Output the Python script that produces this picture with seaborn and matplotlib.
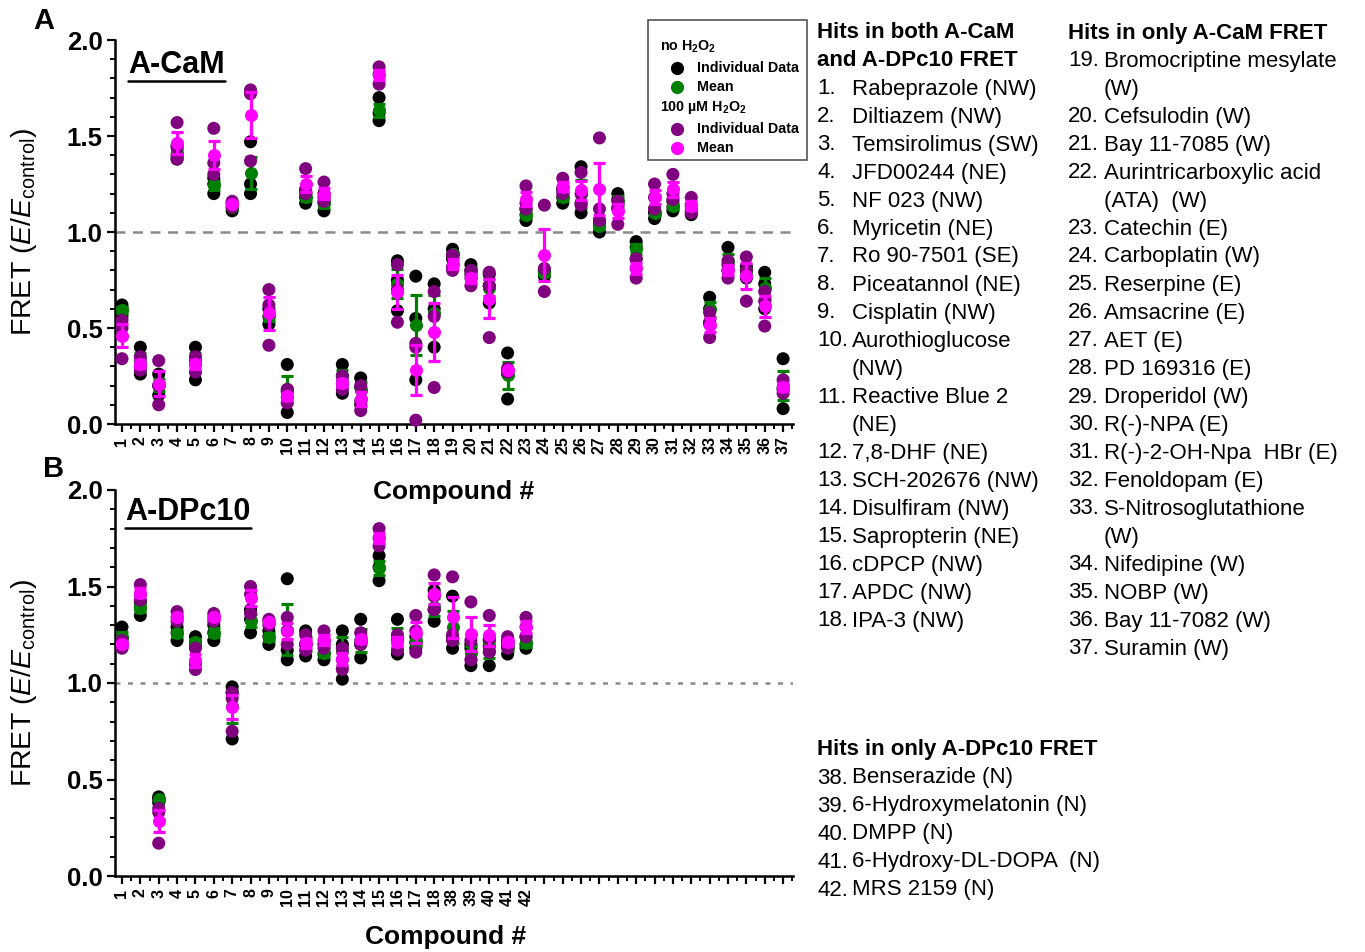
import numpy as np
import pandas as pd
import matplotlib
matplotlib.use('Agg')
import matplotlib.pyplot as plt
import seaborn as sns
from matplotlib.lines import Line2D
from matplotlib.patches import Rectangle
from matplotlib.ticker import MultipleLocator

# ---------------- data ----------------
acam_ids = list(range(1, 38))
acam_ctrl = [
    [0.62, 0.60, 0.56], [0.40, 0.33, 0.26], [0.26, 0.20, 0.15], [1.45, 1.40, 1.38],
    [0.40, 0.33, 0.23], [1.28, 1.25, 1.20], [1.15, 1.13, 1.11], [1.47, 1.25, 1.20],
    [0.60, 0.56, 0.52], [0.31, 0.17, 0.06], [1.22, 1.18, 1.15], [1.20, 1.15, 1.11],
    [0.31, 0.25, 0.16], [0.24, 0.19, 0.10], [1.70, 1.62, 1.58], [0.85, 0.75, 0.59],
    [0.77, 0.55, 0.23], [0.73, 0.60, 0.40], [0.91, 0.88, 0.86], [0.83, 0.80, 0.78],
    [0.78, 0.72, 0.63], [0.37, 0.26, 0.13], [1.12, 1.09, 1.06], [0.80, 0.79, 0.77],
    [1.22, 1.18, 1.15], [1.34, 1.15, 1.10], [1.06, 1.04, 1.00], [1.20, 1.17, 1.12],
    [0.95, 0.92, 0.86], [1.12, 1.10, 1.07], [1.16, 1.13, 1.11], [1.14, 1.11, 1.09],
    [0.66, 0.60, 0.53], [0.92, 0.83, 0.80], [0.82, 0.80, 0.76], [0.79, 0.73, 0.60],
    [0.34, 0.18, 0.08],
]
acam_h2o2 = [
    [0.54, 0.50, 0.34], [0.35, 0.30, 0.28], [0.33, 0.20, 0.10], [1.57, 1.44, 1.38],
    [0.35, 0.31, 0.27], [1.54, 1.36, 1.30], [1.16, 1.15, 1.13], [1.74, 1.72, 1.37],
    [0.70, 0.62, 0.41], [0.18, 0.14, 0.11], [1.33, 1.22, 1.20], [1.26, 1.18, 1.16],
    [0.25, 0.21, 0.18], [0.20, 0.12, 0.07], [1.86, 1.82, 1.77], [0.83, 0.70, 0.53],
    [0.42, 0.40, 0.02], [0.69, 0.56, 0.19], [0.88, 0.82, 0.80], [0.80, 0.76, 0.72],
    [0.79, 0.72, 0.45], [0.29, 0.28, 0.27], [1.24, 1.15, 1.12], [1.14, 0.81, 0.69],
    [1.28, 1.23, 1.20], [1.31, 1.20, 1.14], [1.49, 1.12, 1.06], [1.16, 1.13, 1.04],
    [0.86, 0.81, 0.76], [1.25, 1.18, 1.12], [1.30, 1.20, 1.17], [1.18, 1.13, 1.10],
    [0.58, 0.52, 0.45], [0.85, 0.80, 0.76], [0.87, 0.80, 0.64], [0.69, 0.64, 0.51],
    [0.23, 0.19, 0.16],
]

dpc_ids = list(range(1, 19)) + [38, 39, 40, 41, 42]
dpc_ctrl = [
    [1.29, 1.23, 1.19], [1.42, 1.39, 1.35], [0.41, 0.40, 0.38], [1.29, 1.26, 1.22],
    [1.24, 1.21, 1.19], [1.30, 1.26, 1.22], [0.98, 0.95, 0.71], [1.38, 1.33, 1.26],
    [1.27, 1.24, 1.20], [1.54, 1.17, 1.12], [1.27, 1.20, 1.14], [1.20, 1.15, 1.12],
    [1.27, 1.20, 1.02], [1.33, 1.20, 1.13], [1.66, 1.60, 1.53], [1.33, 1.22, 1.15],
    [1.24, 1.21, 1.18], [1.48, 1.38, 1.32], [1.45, 1.24, 1.18], [1.20, 1.18, 1.09],
    [1.22, 1.19, 1.09], [1.22, 1.19, 1.15], [1.24, 1.20, 1.18],
]
dpc_h2o2 = [
    [1.22, 1.20, 1.18], [1.51, 1.46, 1.43], [0.35, 0.33, 0.17], [1.37, 1.34, 1.32],
    [1.18, 1.10, 1.07], [1.36, 1.34, 1.32], [0.95, 0.92, 0.75], [1.50, 1.46, 1.36],
    [1.33, 1.32, 1.30], [1.34, 1.27, 1.20], [1.25, 1.20, 1.17], [1.27, 1.22, 1.18],
    [1.18, 1.12, 1.07], [1.26, 1.22, 1.20], [1.80, 1.75, 1.71], [1.25, 1.22, 1.17],
    [1.35, 1.27, 1.16], [1.56, 1.45, 1.38], [1.55, 1.25, 1.22], [1.42, 1.22, 1.12],
    [1.35, 1.23, 1.16], [1.24, 1.21, 1.18], [1.34, 1.29, 1.24],
]

both_hits = ['Rabeprazole (NW)', 'Diltiazem (NW)', 'Temsirolimus (SW)', 'JFD00244 (NE)',
             'NF 023 (NW)', 'Myricetin (NE)', 'Ro 90-7501 (SE)', 'Piceatannol (NE)',
             'Cisplatin (NW)', 'Aurothioglucose\n(NW)', 'Reactive Blue 2\n(NE)',
             '7,8-DHF (NE)', 'SCH-202676 (NW)', 'Disulfiram (NW)', 'Sapropterin (NE)',
             'cDPCP (NW)', 'APDC (NW)', 'IPA-3 (NW)']
cam_only = ['Bromocriptine mesylate\n(W)', 'Cefsulodin (W)', 'Bay 11-7085 (W)',
            'Aurintricarboxylic acid\n(ATA)  (W)', 'Catechin (E)', 'Carboplatin (W)',
            'Reserpine (E)', 'Amsacrine (E)', 'AET (E)', 'PD 169316 (E)', 'Droperidol (W)',
            'R(-)-NPA (E)', 'R(-)-2-OH-Npa  HBr (E)', 'Fenoldopam (E)',
            'S-Nitrosoglutathione\n(W)', 'Nifedipine (W)', 'NOBP (W)', 'Bay 11-7082 (W)',
            'Suramin (W)']
dpc_only = ['Benserazide (N)', '6-Hydroxymelatonin (N)', 'DMPP (N)',
            '6-Hydroxy-DL-DOPA  (N)', 'MRS 2159 (N)']

# ---------------- style ----------------
sns.set_theme(style='ticks')
plt.rcParams['font.family'] = ['Liberation Sans', 'DejaVu Sans']
plt.rcParams['mathtext.fontset'] = 'custom'
plt.rcParams['mathtext.rm'] = 'Liberation Sans'
plt.rcParams['mathtext.it'] = 'Liberation Sans:italic'
plt.rcParams['mathtext.bf'] = 'Liberation Sans:bold'
for k in ['text.color', 'axes.labelcolor', 'xtick.color', 'ytick.color', 'axes.edgecolor']:
    plt.rcParams[k] = 'black'

C_IND0, C_MEAN0 = '#000000', '#008000'
C_IND1, C_MEAN1 = '#800080', '#ff00ff'

W, H = 1365, 952
fig = plt.figure(figsize=(W / 100, H / 100), dpi=100)


def fx(px):
    return px / W


def fy(py):
    return 1 - py / H


axA = fig.add_axes([fx(115), fy(424), fx(793) - fx(115), fy(40) - fy(424)])
axB = fig.add_axes([fx(115), fy(876), fx(793) - fx(115), fy(490) - fy(876)])


def draw_panel(ax, ids, ctrl, h2o2, dash):
    pos = np.arange(1, len(ids) + 1)
    rows = []
    for p, cid, c, h in zip(pos, ids, ctrl, h2o2):
        for v in c:
            rows.append((p, cid, 'ctrl', v))
        for v in h:
            rows.append((p, cid, 'h2o2', v))
    df = pd.DataFrame(rows, columns=['pos', 'compound', 'cond', 'value'])
    ax.axhline(1.0, color='#8a8a8a', lw=1.8, ls=dash, zorder=1)
    for cond, ci, cm, z in [('ctrl', C_IND0, C_MEAN0, 3), ('h2o2', C_IND1, C_MEAN1, 5)]:
        sub = df[df['cond'] == cond]
        sns.scatterplot(data=sub, x='pos', y='value', color=ci, s=88, edgecolor='none',
                        linewidth=0, ax=ax, zorder=z, clip_on=False, legend=False)
        g = sub.groupby('pos')['value']
        m = g.mean()
        se = g.sem()
        ax.errorbar(m.index, m.values, yerr=se.values, fmt='o', color=cm, ms=9.4,
                    mec='none', capsize=4, elinewidth=2.3, capthick=2.3, zorder=z + 1,
                    clip_on=False)
    ax.set_xlim(0.62, 37.54)
    ax.set_ylim(0, 2.0)
    ax.set_xticks(np.arange(1, 38))
    labels = [str(i) for i in ids] + [''] * (37 - len(ids))
    ax.set_xticklabels(labels, rotation=90, fontsize=11.5, fontweight='bold')
    ax.xaxis.set_minor_locator(MultipleLocator(0.5))
    ax.set_yticks([0, 0.5, 1.0, 1.5, 2.0])
    ax.set_yticklabels(['0.0', '0.5', '1.0', '1.5', '2.0'], fontsize=18.5, fontweight='bold')
    ax.yaxis.set_minor_locator(MultipleLocator(0.1))
    for s in ['top', 'right']:
        ax.spines[s].set_visible(False)
    for s in ['left', 'bottom']:
        ax.spines[s].set_linewidth(1.8)
        ax.spines[s].set_color('black')
    ax.tick_params(which='major', direction='out', length=6, width=1.6, color='black',
                   bottom=True, left=True, pad=3)
    ax.tick_params(which='minor', direction='out', length=3.5, width=1.4, color='black',
                   bottom=True, left=True)
    ax.set_ylabel(r'FRET ($\mathit{E/E}_{\mathrm{control}}$)', fontsize=20.5)
    ax.yaxis.set_label_coords(-0.112, 0.5)
    ax.set_xlabel('Compound #', fontsize=19, fontweight='bold')
    ax.grid(False)
    ax.set_facecolor('none')


draw_panel(axA, acam_ids, acam_ctrl, acam_h2o2, (0, (4, 3)))
draw_panel(axB, dpc_ids, dpc_ctrl, dpc_h2o2, (0, (2, 3)))
axA.xaxis.set_label_coords(0.5, -0.145)
axB.xaxis.set_label_coords(0.487, -0.128)

# panel titles with underline
tA = axA.text(0.019, 0.935, 'A-CaM', transform=axA.transAxes, fontsize=22,
              fontweight='bold', ha='left', va='center')
tB = axB.text(0.015, 0.943, 'A-DPc10', transform=axB.transAxes, fontsize=22,
              fontweight='bold', ha='left', va='center')
fig.canvas.draw()
for t in (tA, tB):
    bb = t.get_window_extent()
    yb = bb.y0 - 1
    fig.add_artist(Line2D([bb.x0 / W, bb.x1 / W], [yb / H, yb / H],
                          transform=fig.transFigure, color='black', lw=1.8))

# panel letters
fig.text(fx(44), fy(21), 'A', fontsize=21, fontweight='bold', ha='center', va='center')
fig.text(fx(54), fy(469), 'B', fontsize=21, fontweight='bold', ha='center', va='center')

# legend box
fig.add_artist(Rectangle((fx(648), fy(160)), fx(807) - fx(648), fy(20) - fy(160),
                         transform=fig.transFigure, fill=False, ec='#555555', lw=1.2))
leg_rows = [
    ('head', r'no H$_\mathbf{2}$O$_\mathbf{2}$', None, 47),
    ('item', 'Individual Data', C_IND0, 68),
    ('item', 'Mean', C_MEAN0, 87),
    ('head', r'100 µM H$_\mathbf{2}$O$_\mathbf{2}$', None, 107),
    ('item', 'Individual Data', C_IND1, 129),
    ('item', 'Mean', C_MEAN1, 148),
]
for kind, txt, col, yy in leg_rows:
    if kind == 'head':
        fig.text(fx(660), fy(yy), txt, fontsize=10.3, fontweight='bold', ha='left', va='center')
    else:
        fig.add_artist(Line2D([fx(677)], [fy(yy)], transform=fig.transFigure, marker='o',
                              ms=9.5, color=col, mec='none', ls='none'))
        fig.text(fx(697), fy(yy), txt, fontsize=10.3, fontweight='bold', ha='left', va='center')

# text columns
FS = 16
STEP = 28


def write_column(x_num, x_name, y0, start_num, items):
    y = y0
    n = start_num
    for it in items:
        parts = it.split('\n')
        fig.text(fx(x_num), fy(y), f'{n}.', fontsize=FS, ha='left', va='center')
        for p in parts:
            fig.text(fx(x_name), fy(y), p, fontsize=FS, ha='left', va='center')
            y += STEP
        n += 1


fig.text(fx(817), fy(33), 'Hits in both A-CaM', fontsize=FS, fontweight='bold', ha='left', va='center')
fig.text(fx(817), fy(61), 'and A-DPc10 FRET', fontsize=FS, fontweight='bold', ha='left', va='center')
write_column(817, 852, 89, 1, both_hits)
fig.text(fx(1068), fy(33), 'Hits in only A-CaM FRET', fontsize=FS, fontweight='bold', ha='left', va='center')
write_column(1068, 1104, 61, 19, cam_only)
fig.text(fx(817), fy(750), 'Hits in only A-DPc10 FRET', fontsize=FS, fontweight='bold', ha='left', va='center')
write_column(817, 852, 778, 38, dpc_only)

fig.savefig('out.png', dpi=100, facecolor='white')
